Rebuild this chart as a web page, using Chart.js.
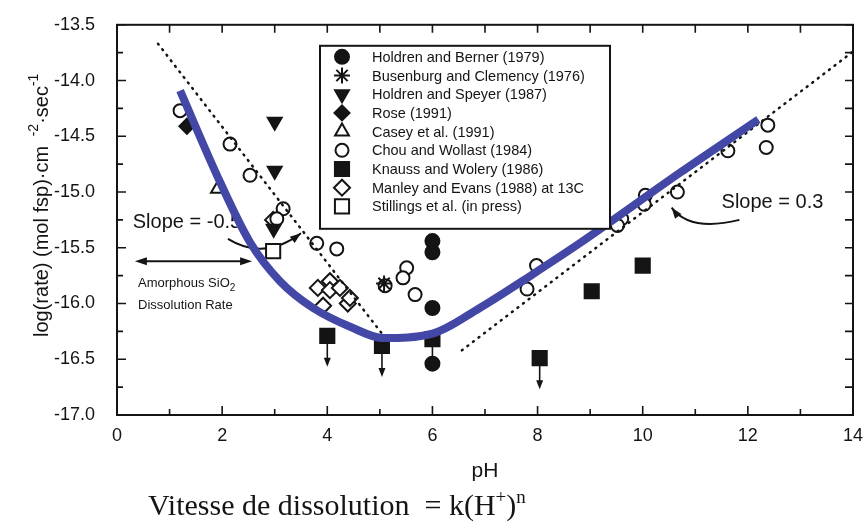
<!DOCTYPE html>
<html>
<head>
<meta charset="utf-8">
<script src="https://cdn.jsdelivr.net/npm/chart.js@4.4.1/dist/chart.umd.min.js"></script>
<style>
  html, body { margin: 0; padding: 0; background: #fff; }
  #c { display: block; }
</style>
</head>
<body>
<canvas id="c" width="866" height="524"></canvas>
<script>
// axis ticks
const phTicks = [0, 2, 4, 6, 8, 10, 12, 14];
const rateTicks = [-17.0, -16.5, -16.0, -15.5, -15.0, -14.5, -14.0, -13.5];

// data sets, [pH, log rate]
const holdrenBerner = [[6.0, -15.44], [6.0, -15.54], [6.0, -16.04], [6.0, -16.54]];
const busenburg = [[5.08, -15.82]];
const holdrenSpeyer = [[3.0, -14.37], [3.0, -14.81], [2.98, -15.33]];
const rose = [[1.33, -14.41]];
const casey = [[1.92, -14.97]];
const chouWollast = [
  [1.2, -14.27], [2.15, -14.57], [2.53, -14.85], [3.16, -15.15], [3.04, -15.24],
  [3.8, -15.46], [4.18, -15.51], [5.1, -15.84], [5.51, -15.68], [5.44, -15.77],
  [5.67, -15.92], [7.98, -15.66], [7.8, -15.87], [9.6, -15.24], [9.52, -15.3],
  [10.05, -15.03], [10.03, -15.11], [10.66, -15.0], [11.62, -14.63], [12.38, -14.4],
  [12.35, -14.6]
];
const knaussWolery = [[4.0, -16.29], [5.04, -16.38], [6.0, -16.32], [8.04, -16.49], [9.03, -15.89], [10.0, -15.66]];
const knaussUpperLimit = [true, true, true, true, false, false];
const manleyEvans = [
  [2.97, -15.25], [3.82, -15.86], [4.05, -15.8], [4.05, -15.88], [4.24, -15.86],
  [3.92, -16.02], [4.39, -16.0], [4.43, -15.95]
];
const stillings = [[2.97, -15.53]];

// fitted trend (blue) and slope guides (dotted)
const trendCurve = [
  [1.2, -14.09], [1.96, -14.91], [2.53, -15.45], [3.1, -15.8], [3.73, -16.04],
  [4.49, -16.22], [5.06, -16.31], [6.0, -16.27], [6.9, -16.04], [7.9, -15.74],
  [8.8, -15.46], [10.7, -14.83], [12.2, -14.35]
];
const acidSlope = [[0.78, -13.67], [5.04, -16.27]];
const basicSlope = [[6.56, -16.42], [14.0, -13.74]];

const legendLabels = [
  'Holdren and Berner (1979)',
  'Busenburg and Clemency (1976)',
  'Holdren and Speyer (1987)',
  'Rose (1991)',
  'Casey et al. (1991)',
  'Chou and Wollast (1984)',
  'Knauss and Wolery (1986)',
  'Manley and Evans (1988) at 13C',
  'Stillings et al. (in press)'
];

const INK = '#141414';
const toXY = pts => pts.map(p => ({ x: p[0], y: p[1] }));

function marks(label, pts, style, filled, radius, rotation) {
  return {
    type: 'scatter',
    label: label,
    data: toXY(pts),
    pointStyle: style,
    pointRadius: radius,
    pointRotation: rotation || 0,
    pointBackgroundColor: filled ? INK : '#fff',
    pointBorderColor: INK,
    pointBorderWidth: 2,
    order: 5
  };
}

const datasets = [
  marks(legendLabels[0], holdrenBerner, 'circle', true, 7),
  marks(legendLabels[1], busenburg, 'star', false, 8),
  marks(legendLabels[2], holdrenSpeyer, 'triangle', true, 8, 180),
  marks(legendLabels[3], rose, 'rectRot', true, 7.5),
  marks(legendLabels[4], casey, 'triangle', false, 8),
  marks(legendLabels[5], chouWollast, 'circle', false, 6.5),
  marks(legendLabels[6], knaussWolery, 'rect', true, 10),
  marks(legendLabels[7], manleyEvans, 'rectRot', false, 8),
  marks(legendLabels[8], stillings, 'rect', false, 10),
  {
    type: 'line', label: 'trend', data: toXY(trendCurve),
    borderColor: '#4347a6', borderWidth: 8, pointRadius: 0,
    cubicInterpolationMode: 'monotone', borderCapStyle: 'butt', order: 0
  },
  {
    type: 'line', label: 'slope -0.5', data: toXY(acidSlope),
    borderColor: INK, borderWidth: 2.5, borderDash: [1, 6], borderCapStyle: 'round',
    pointRadius: 0, order: 3
  },
  {
    type: 'line', label: 'slope 0.3', data: toXY(basicSlope),
    borderColor: INK, borderWidth: 2.5, borderDash: [1, 6], borderCapStyle: 'round',
    pointRadius: 0, order: 3, clip: 12
  }
];

function arrowHead(ctx, x, y, ang, len, half) {
  ctx.beginPath();
  ctx.moveTo(x, y);
  ctx.lineTo(x - len * Math.cos(ang) + half * Math.sin(ang), y - len * Math.sin(ang) - half * Math.cos(ang));
  ctx.lineTo(x - len * Math.cos(ang) - half * Math.sin(ang), y - len * Math.sin(ang) + half * Math.cos(ang));
  ctx.closePath();
  ctx.fill();
}

const decor = {
  id: 'decor',
  beforeDatasetsDraw(chart) {
    const { ctx, chartArea: a, scales: { x, y } } = chart;
    ctx.save();
    ctx.strokeStyle = INK;
    ctx.fillStyle = INK;

    // frame + inward ticks
    ctx.lineWidth = 2;
    ctx.strokeRect(a.left, a.top, a.right - a.left, a.bottom - a.top);
    ctx.lineWidth = 1.6;
    ctx.beginPath();
    for (let v = 0; v <= 14; v++) {
      const px = x.getPixelForValue(v);
      ctx.moveTo(px, a.bottom); ctx.lineTo(px, a.bottom - (v % 2 ? 6 : 9));
      ctx.moveTo(px, a.top); ctx.lineTo(px, a.top + 8);
    }
    for (let i = 0; i <= 14; i++) {
      const py = y.getPixelForValue(-17 + i * 0.25);
      ctx.moveTo(a.left, py); ctx.lineTo(a.left + (i % 2 ? 6 : 9), py);
      ctx.moveTo(a.right, py); ctx.lineTo(a.right - 8, py);
    }
    ctx.stroke();

    // slope labels
    ctx.font = '20px "Liberation Sans", Arial, sans-serif';
    ctx.textBaseline = 'middle';
    ctx.textAlign = 'left';
    ctx.fillText('Slope = -0.5', x.getPixelForValue(0.3), y.getPixelForValue(-15.27));
    ctx.fillText('Slope = 0.3', x.getPixelForValue(11.5), y.getPixelForValue(-15.09));

    // curved arrows
    ctx.lineWidth = 2;
    const curved = (s, c, e) => {
      const p0 = [x.getPixelForValue(s[0]), y.getPixelForValue(s[1])];
      const p1 = [x.getPixelForValue(c[0]), y.getPixelForValue(c[1])];
      const p2 = [x.getPixelForValue(e[0]), y.getPixelForValue(e[1])];
      ctx.beginPath();
      ctx.moveTo(p0[0], p0[1]);
      ctx.quadraticCurveTo(p1[0], p1[1], p2[0], p2[1]);
      ctx.stroke();
      arrowHead(ctx, p2[0], p2[1], Math.atan2(p2[1] - p1[1], p2[0] - p1[0]), 11, 4);
    };
    curved([2.11, -15.42], [2.8, -15.62], [3.5, -15.37]);
    curved([11.84, -15.25], [10.9, -15.36], [10.55, -15.14]);

    // amorphous silica band
    const yA = y.getPixelForValue(-15.62);
    const xa = x.getPixelForValue(0.34), xb = x.getPixelForValue(2.57);
    ctx.beginPath(); ctx.moveTo(xa + 6, yA); ctx.lineTo(xb - 6, yA); ctx.stroke();
    arrowHead(ctx, xa, yA, Math.PI, 12, 4);
    arrowHead(ctx, xb, yA, 0, 12, 4);
    ctx.font = '13px "Liberation Sans", Arial, sans-serif';
    const tx = x.getPixelForValue(0.4);
    const ty = y.getPixelForValue(-15.82);
    ctx.fillText('Amorphous SiO', tx, ty);
    const w = ctx.measureText('Amorphous SiO').width;
    ctx.font = '10px "Liberation Sans", Arial, sans-serif';
    ctx.fillText('2', tx + w, ty + 5);
    ctx.font = '13px "Liberation Sans", Arial, sans-serif';
    ctx.fillText('Dissolution Rate', tx, y.getPixelForValue(-16.02));
    ctx.restore();
  },
  afterDatasetsDraw(chart) {
    const { ctx, chartArea: a, scales: { x, y } } = chart;
    ctx.save();
    ctx.strokeStyle = INK;
    ctx.fillStyle = INK;

    // upper-limit arrows under Knauss and Wolery points
    ctx.lineWidth = 1.6;
    knaussWolery.forEach((p, i) => {
      if (!knaussUpperLimit[i]) return;
      const px = x.getPixelForValue(p[0]);
      const py = y.getPixelForValue(p[1]);
      ctx.beginPath(); ctx.moveTo(px, py + 7); ctx.lineTo(px, py + 24); ctx.stroke();
      arrowHead(ctx, px, py + 31, Math.PI / 2, 9, 3.5);
    });

    // legend box
    const bx = a.left + 203, by = a.top + 21, bw = 290, bh = 183;
    ctx.fillStyle = '#fff';
    ctx.fillRect(bx, by, bw, bh);
    ctx.lineWidth = 2;
    ctx.strokeRect(bx, by, bw, bh);
    ctx.font = '14.5px "Liberation Sans", Arial, sans-serif';
    ctx.textBaseline = 'middle';
    ctx.textAlign = 'left';
    for (let i = 0; i < legendLabels.length; i++) {
      const ds = chart.data.datasets[i];
      const ly = by + 11 + i * 18.7;
      ctx.fillStyle = ds.pointBackgroundColor;
      ctx.strokeStyle = INK;
      ctx.lineWidth = 2;
      Chart.helpers.drawPoint(ctx, {
        pointStyle: ds.pointStyle, rotation: ds.pointRotation,
        radius: ds.pointRadius, borderWidth: 2
      }, bx + 22, ly);
      ctx.fillStyle = INK;
      ctx.fillText(legendLabels[i], bx + 52, ly + 1);
    }

    // y axis title with superscripts
    ctx.save();
    ctx.translate(42, 337);
    ctx.rotate(-Math.PI / 2);
    ctx.textBaseline = 'middle';
    let cx = 0;
    const part = (t, size, dy) => {
      ctx.font = size + 'px "Liberation Sans", Arial, sans-serif';
      ctx.fillText(t, cx, dy);
      cx += ctx.measureText(t).width;
    };
    part('log(rate) (mol fsp)\u00b7cm ', 20, 0);
    cx += 4;
    part('-2', 14, -8);
    part('\u00b7sec', 20, 0);
    part('-1', 14, -8);
    ctx.restore();

    // rate law
    let fx = 148;
    const fy = 515;
    ctx.textBaseline = 'alphabetic';
    const serif = (t, size, dy) => {
      ctx.font = size + 'px "Liberation Serif", "Times New Roman", serif';
      ctx.fillText(t, fx, fy + dy);
      fx += ctx.measureText(t).width;
    };
    serif('Vitesse de dissolution  = k(H', 30, 0);
    serif('+', 19, -12);
    serif(')', 30, 0);
    serif('n', 19, -12);
    ctx.restore();
  }
};

new Chart(document.getElementById('c'), {
  data: { datasets: datasets },
  options: {
    responsive: false,
    animation: false,
    events: [],
    layout: { padding: { left: 0, right: 13, top: 21, bottom: 40 } },
    plugins: { legend: { display: false }, tooltip: { enabled: false } },
    scales: {
      x: {
        type: 'linear', min: 0, max: 14,
        grid: { display: false }, border: { display: false },
        afterBuildTicks: s => { s.ticks = phTicks.map(v => ({ value: v })); },
        afterFit: s => { s.height = 69; },
        ticks: {
          padding: 2, color: INK, maxRotation: 0,
          font: { family: '"Liberation Sans", Arial, sans-serif', size: 18 }
        },
        title: {
          display: true, text: 'pH', color: INK, padding: { top: 0, bottom: 0 },
          font: { family: '"Liberation Sans", Arial, sans-serif', size: 21 }
        }
      },
      y: {
        type: 'linear', min: -17, max: -13.5,
        grid: { display: false }, border: { display: false },
        afterBuildTicks: s => { s.ticks = rateTicks.map(v => ({ value: v })); },
        afterFit: s => { s.width = 117; },
        ticks: {
          padding: 14, color: INK,
          callback: v => v.toFixed(1),
          font: { family: '"Liberation Sans", Arial, sans-serif', size: 18 }
        }
      }
    }
  },
  plugins: [decor]
});
</script>
</body>
</html>
